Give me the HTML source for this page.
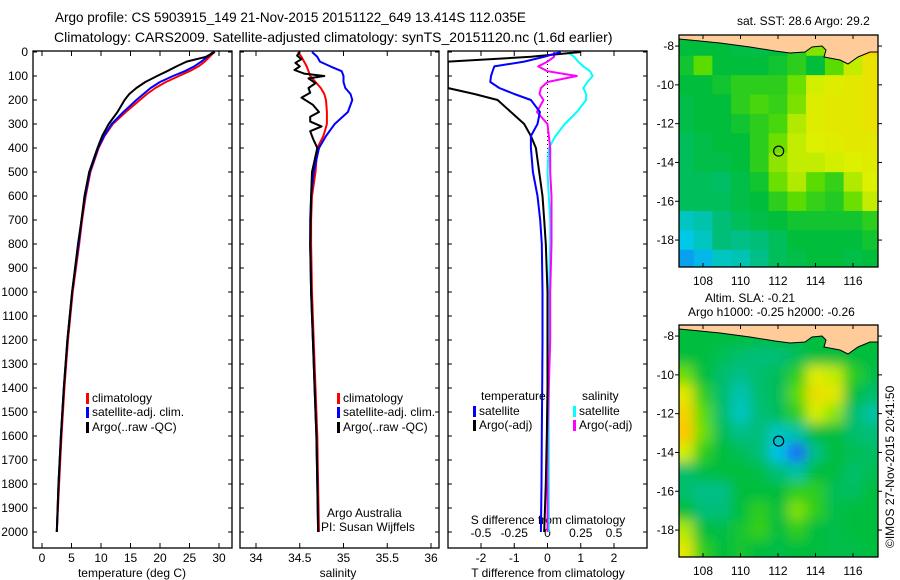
<!DOCTYPE html>
<html><head><meta charset="utf-8"><style>
html,body{margin:0;padding:0;background:#fff;}
svg{display:block;font-family:"Liberation Sans",sans-serif;}
text{fill:#000;}
</style></head><body>
<svg id="fig" width="900" height="580" viewBox="0 0 900 580">
<defs>
<clipPath id="cp1"><rect x="33" y="51" width="198" height="497"/></clipPath>
<clipPath id="cp2"><rect x="240" y="51" width="199" height="497"/></clipPath>
<clipPath id="cp3"><rect x="448" y="51" width="199" height="497"/></clipPath>
<clipPath id="cm1"><rect x="679" y="35" width="199" height="232"/></clipPath>
<clipPath id="cm2"><rect x="679" y="325" width="199" height="232"/></clipPath>
<filter id="blur" x="-10%" y="-10%" width="120%" height="120%"><feGaussianBlur stdDeviation="6"/></filter>
</defs>
<text x="55" y="22" font-size="13.5">Argo profile: CS 5903915_149 21-Nov-2015 20151122_649 13.414S 112.035E</text>
<text x="54" y="42" font-size="14">Climatology: CARS2009. Satellite-adjusted climatology: synTS_20151120.nc (1.6d earlier)</text>
<text x="737" y="25" font-size="12">sat. SST: 28.6 Argo: 29.2</text>
<text x="705" y="302" font-size="12">Altim. SLA: -0.21</text>
<text x="688" y="316" font-size="12">Argo h1000: -0.25 h2000: -0.26</text>
<text transform="translate(894,548) rotate(-90)" font-size="12">©IMOS 27-Nov-2015 20:41:50</text>
<g id="layer"></g>
</svg>
<script>
// ---------- data ----------
const depths = [0,20,40,60,80,100,125,150,175,200,250,300,350,400,500,600,700,800,1000,1200,1400,1600,1800,2000];
const tempClim = [29.2,28.4,27.6,26.5,25.0,23.2,21.0,19.2,17.8,16.6,14.2,12.0,10.6,9.6,8.2,7.4,6.8,6.3,5.2,4.4,3.8,3.3,2.9,2.5];
const tempSat  = [29.0,28.0,27.0,25.8,24.2,22.2,20.0,18.4,17.2,16.0,13.8,11.8,10.5,9.5,8.1,7.3,6.7,6.2,5.1,4.3,3.7,3.2,2.8,2.5];
const tempArgo = [29.3,27.8,24.5,22.8,21.2,19.5,17.5,16.0,14.8,14.0,12.8,11.3,10.2,9.4,8.0,7.2,6.7,6.1,5.1,4.3,3.7,3.2,2.8,2.5];
const salClim  = [34.48,34.52,34.55,34.58,34.6,34.62,34.68,34.74,34.78,34.8,34.81,34.81,34.77,34.7,34.68,34.64,34.63,34.63,34.64,34.66,34.68,34.7,34.71,34.72];
const salSat   = [34.64,34.7,34.73,34.85,34.98,35.0,35.0,35.02,35.08,35.1,35.05,34.9,34.8,34.72,34.66,34.63,34.62,34.62,34.63,34.65,34.67,34.69,34.7,34.71];
const argoSalDepths = [0,15,30,45,60,75,90,100,110,130,150,170,190,220,250,270,290,310,330,360,400,500,600,800,1000,1200,1400,1600,1800,2000];
const salArgo  = [34.5,34.47,34.52,34.45,34.5,34.44,34.55,34.78,34.6,34.68,34.6,34.62,34.52,34.65,34.72,34.62,34.62,34.75,34.62,34.65,34.7,34.64,34.63,34.62,34.63,34.65,34.67,34.69,34.7,34.71];
const tDiffSat  = [0.4,-0.1,-0.7,-1.6,-1.65,-1.7,-1.72,-1.45,-1.0,-0.5,-0.23,-0.3,-0.5,-0.5,-0.44,-0.3,-0.22,-0.17,-0.15,-0.15,-0.16,-0.17,-0.18,-0.2];
const tDiffArgo = [1.0,-0.5,-3,-3,-3,-3,-3,-3,-2.2,-1.5,-1.1,-0.7,-0.5,-0.35,-0.25,-0.15,-0.1,-0.05,0,0,0,-0.02,-0.05,-0.1];
const sDiffSat  = [0.15,0.2,0.23,0.27,0.32,0.34,0.3,0.27,0.29,0.29,0.22,0.13,0.06,0.01,0.0,0.01,0.02,0.02,0.01,0.01,0.01,0.01,0.01,0.01];
const sDiffArgo = [0.05,0.05,0.0,-0.07,0.0,0.22,0.0,-0.05,-0.06,-0.03,-0.08,0.0,0.01,0.02,0.02,0.03,0.03,0.03,0.02,0.02,0.01,0.0,0.0,0.0];
const depthTicks = [0,100,200,300,400,500,600,700,800,900,1000,1100,1200,1300,1400,1500,1600,1700,1800,1900,2000];
const tempTicks = [0,5,10,15,20,25,30];
const salTicks = [34,34.5,35,35.5,36];
const tDiffTicks = [-2,-1,0,1,2];
const sDiffTicks = [-0.5,-0.25,0,0.25,0.5];
const lonTicks = [108,110,112,114,116];
const latTicks = [-8,-10,-12,-14,-16,-18];
const mapLats = [-8,-9,-10,-11,-12,-13,-14,-15,-16,-17,-18,-19];
const mapLons = [107,108,109,110,111,112,113,114,115,116,117];
const sstGrid = [
[0.5,0.5,0.5,0.48,0.48,0.5,0.55,0.65,0.75,0.8,0.85],
[0.52,0.6,0.5,0.5,0.5,0.52,0.55,0.5,0.6,0.72,0.8],
[0.5,0.5,0.52,0.55,0.55,0.55,0.62,0.74,0.76,0.78,0.8],
[0.48,0.5,0.5,0.55,0.58,0.56,0.64,0.76,0.78,0.78,0.8],
[0.48,0.5,0.5,0.52,0.55,0.58,0.7,0.76,0.78,0.78,0.8],
[0.45,0.48,0.5,0.5,0.55,0.62,0.72,0.75,0.76,0.78,0.78],
[0.45,0.48,0.48,0.5,0.55,0.66,0.72,0.72,0.74,0.75,0.76],
[0.45,0.45,0.43,0.48,0.52,0.62,0.7,0.6,0.56,0.7,0.75],
[0.45,0.45,0.45,0.48,0.5,0.55,0.6,0.56,0.54,0.62,0.72],
[0.3,0.33,0.4,0.45,0.48,0.5,0.52,0.52,0.52,0.52,0.55],
[0.25,0.3,0.4,0.38,0.4,0.45,0.5,0.5,0.5,0.5,0.52],
[0.18,0.22,0.3,0.32,0.38,0.45,0.48,0.5,0.5,0.48,0.5]];
const slaGrid = [
[0.5,0.5,0.5,0.5,0.5,0.5,0.5,0.5,0.5,0.5,0.5],
[0.5,0.5,0.46,0.42,0.4,0.4,0.45,0.5,0.5,0.5,0.5],
[0.62,0.5,0.42,0.38,0.42,0.45,0.55,0.76,0.72,0.55,0.48],
[0.78,0.55,0.42,0.32,0.42,0.45,0.6,0.82,0.78,0.5,0.42],
[0.86,0.6,0.42,0.3,0.4,0.45,0.55,0.74,0.66,0.42,0.34],
[0.9,0.62,0.46,0.38,0.4,0.3,0.34,0.5,0.5,0.42,0.4],
[0.74,0.55,0.5,0.46,0.4,0.24,0.08,0.38,0.5,0.46,0.44],
[0.42,0.48,0.5,0.5,0.48,0.4,0.34,0.5,0.5,0.42,0.46],
[0.42,0.38,0.38,0.5,0.5,0.5,0.55,0.55,0.45,0.44,0.5],
[0.5,0.4,0.4,0.5,0.55,0.5,0.64,0.55,0.48,0.5,0.5],
[0.7,0.5,0.48,0.52,0.56,0.5,0.55,0.5,0.48,0.5,0.5],
[0.78,0.55,0.5,0.52,0.5,0.48,0.5,0.5,0.48,0.48,0.5]];
const argoLon = 112.035, argoLat = -13.414;

// ---------- helpers ----------
const NS='http://www.w3.org/2000/svg';
const layer=document.getElementById('layer');
function mk(tag,attrs,parent){const e=document.createElementNS(NS,tag);for(const k in attrs)e.setAttribute(k,attrs[k]);(parent||layer).appendChild(e);return e;}
const yD=d=>52+0.24*d;
const xT=t=>42+5.9*t;
const xS=s=>256+87.5*(s-34);
const xTD=t=>547.5+33.25*t;
const xSD=s=>547.5+133*s;
const mLon=l=>679+(l-106.72)*18.75;
const mLat1=l=>35+(-7.43-l)*19.4;
const mLat2=l=>325+(-7.43-l)*19.4;

function panel(x,name){
  const r=mk('rect',{x:x,y:51,width:199,height:497,fill:'none',stroke:'#000','stroke-width':1.3});
  
  
  depthTicks.forEach(d=>{mk('line',{x1:x,x2:x+4,y1:yD(d),y2:yD(d),stroke:'#000'});mk('line',{x1:x+199,x2:x+195,y1:yD(d),y2:yD(d),stroke:'#000'});});
}
function line(xs,ds,fx,color,clip,name,w){
  const pts=xs.map((v,i)=>fx(v).toFixed(1)+','+yD(ds[i]).toFixed(1)).join(' ');
  const p=mk('polyline',{points:pts,fill:'none',stroke:color,'stroke-width':w||2,'clip-path':'url(#'+clip+')','stroke-linejoin':'round'});
  
  
}
function label(x,y,t,anchor,size,name){
  const e=mk('text',{x:x,y:y,'font-size':size||12,'text-anchor':anchor||'start'});e.textContent=t;
  
  
  return e;
}
function legend(x,y,color,t,name){
  mk('rect',{x:x,y:y-9,width:3,height:11,fill:color});
  label(x+6,y,t,'start',12,name);
}

// ---------- temperature panel ----------
panel(33,'temperature-panel');
depthTicks.forEach(d=>label(28,yD(d)+4,String(d),'end',12,'depth-tick-label'));
tempTicks.forEach(t=>{mk('line',{x1:xT(t),x2:xT(t),y1:548,y2:543,stroke:'#000'});mk('line',{x1:xT(t),x2:xT(t),y1:51,y2:56,stroke:'#000'});label(xT(t),562,String(t),'middle',12,'temperature-tick-label');});
label(132,577,'temperature (deg C)','middle',12,'temperature-axis-title');
line(tempClim,depths,xT,'#f00','cp1','temp-climatology-line');
line(tempSat,depths,xT,'#00f','cp1','temp-satellite-line');
line(tempArgo,depths,xT,'#000','cp1','temp-argo-line');
legend(86,402,'#f00','climatology','legend-climatology');
legend(86,416,'#00f','satellite-adj. clim.','legend-satellite');
legend(86,431,'#000','Argo(..raw -QC)','legend-argo');

// ---------- salinity panel ----------
panel(240,'salinity-panel');
salTicks.forEach(s=>{mk('line',{x1:xS(s),x2:xS(s),y1:548,y2:543,stroke:'#000'});mk('line',{x1:xS(s),x2:xS(s),y1:51,y2:56,stroke:'#000'});label(xS(s),562,String(s),'middle',12,'salinity-tick-label');});
label(338,577,'salinity','middle',12,'salinity-axis-title');
line(salClim,depths,xS,'#f00','cp2','sal-climatology-line');
line(salSat,depths,xS,'#00f','cp2','sal-satellite-line');
line(salArgo,argoSalDepths,xS,'#000','cp2','sal-argo-line');
legend(337,402,'#f00','climatology','legend-climatology');
legend(337,416,'#00f','satellite-adj. clim.','legend-satellite');
legend(337,431,'#000','Argo(..raw -QC)','legend-argo');
label(327,517,'Argo Australia','start',12,'argo-australia-label');
label(321,531,'PI: Susan Wijffels','start',12,'pi-label');

// ---------- difference panel ----------
panel(448,'difference-panel');
tDiffTicks.forEach(t=>{mk('line',{x1:xTD(t),x2:xTD(t),y1:548,y2:543,stroke:'#000'});mk('line',{x1:xTD(t),x2:xTD(t),y1:51,y2:56,stroke:'#000'});label(xTD(t),562,String(t),'middle',12,'tdiff-tick-label');});
sDiffTicks.forEach(s=>label(xSD(s),537,String(s),'middle',12,'sdiff-tick-label'));
label(548,577,'T difference from climatology','middle',12,'tdiff-axis-title');
label(548,524,'S difference from climatology','middle',12,'sdiff-axis-title');
mk('line',{x1:xTD(0),x2:xTD(0),y1:60,y2:180,stroke:'#000','stroke-dasharray':'1,3'});
line(sDiffSat,depths,xSD,'#0ff','cp3','sdiff-satellite-line');
line(sDiffArgo,depths,xSD,'#f0f','cp3','sdiff-argo-line');
line(tDiffArgo,depths,xTD,'#000','cp3','tdiff-argo-line');
line(tDiffSat,depths,xTD,'#00f','cp3','tdiff-satellite-line');
label(481,400,'temperature','start',12,'legend-temperature-header');
legend(473,415,'#00f','satellite','legend-tdiff-satellite');
legend(473,429,'#000','Argo(-adj)','legend-tdiff-argo');
label(582,400,'salinity','start',12,'legend-salinity-header');
legend(573,415,'#0ff','satellite','legend-sdiff-satellite');
legend(573,429,'#f0f','Argo(-adj)','legend-sdiff-argo');

// ---------- maps ----------
function cmap(v){
  const stops=[[0,[30,60,255]],[0.25,[0,200,230]],[0.4,[0,190,120]],[0.5,[0,190,60]],[0.6,[90,220,0]],[0.75,[220,240,0]],[0.9,[255,200,0]],[1,[255,160,0]]];
  for(let i=1;i<stops.length;i++){if(v<=stops[i][0]){const a=stops[i-1],b=stops[i],f=(v-a[0])/(b[0]-a[0]);return 'rgb('+a[1].map((c,k)=>Math.round(c+(b[1][k]-c)*f)).join(',')+')';}}
  return 'rgb(255,160,0)';
}
function drawMap(grid,yLat,clip,top,name,blur){
  const g=mk('g',{'clip-path':'url(#'+clip+')'});
  
  
  const inner=mk('g',blur?{filter:'url(#blur)'}:{},g);
  grid.forEach((row,r)=>row.forEach((v,c)=>{
    const x0=mLon(mapLons[c]-0.5),x1=mLon(mapLons[c]+0.5),y0=yLat(mapLats[r]+0.5),y1=yLat(mapLats[r]-0.5);
    const pad=blur?20:0;
    const cx0=c===0?x0-pad:x0,cx1=c===row.length-1?x1+pad:x1,cy0=r===0?y0-pad:y0,cy1=r===grid.length-1?y1+pad:y1;
    const cell=mk('rect',{x:cx0,y:cy0,width:cx1-cx0+0.5,height:cy1-cy0+0.5,fill:cmap(v)},inner);
    
    
  }));
  const land=[[679,0],[679,4],[700,6],[720,8],[750,12],[775,16],[790,18],[805,17],[812,12],[822,11],[826,15],[824,22],[840,25],[848,29],[858,22],[870,17],[878,17],[878,0]];
  const lp=mk('polygon',{points:land.map(p=>p[0]+','+(top+p[1])).join(' '),fill:'#ffcc99',stroke:'#000','stroke-width':1},g);
  
  
  mk('rect',{x:679,y:top,width:199,height:232,fill:'none',stroke:'#000','stroke-width':1.3});
  lonTicks.forEach(l=>{mk('line',{x1:mLon(l),x2:mLon(l),y1:top+232,y2:top+228,stroke:'#000'});mk('line',{x1:mLon(l),x2:mLon(l),y1:top,y2:top+4,stroke:'#000'});label(mLon(l),top+250,String(l),'middle',12,'lon-tick-label');});
  latTicks.forEach(l=>{mk('line',{x1:679,x2:675,y1:yLat(l),y2:yLat(l),stroke:'#000'});mk('line',{x1:878,x2:882,y1:yLat(l),y2:yLat(l),stroke:'#000'});label(674,yLat(l)+4,String(l),'end',12,'lat-tick-label');});
  const m=mk('circle',{cx:mLon(argoLon),cy:yLat(argoLat),r:5,fill:'none',stroke:'#000','stroke-width':1.2});
  
  
}
drawMap(sstGrid,mLat1,'cm1',35,'sst-map',false);
drawMap(slaGrid,mLat2,'cm2',325,'sla-map',true);
</script>
</body></html>
